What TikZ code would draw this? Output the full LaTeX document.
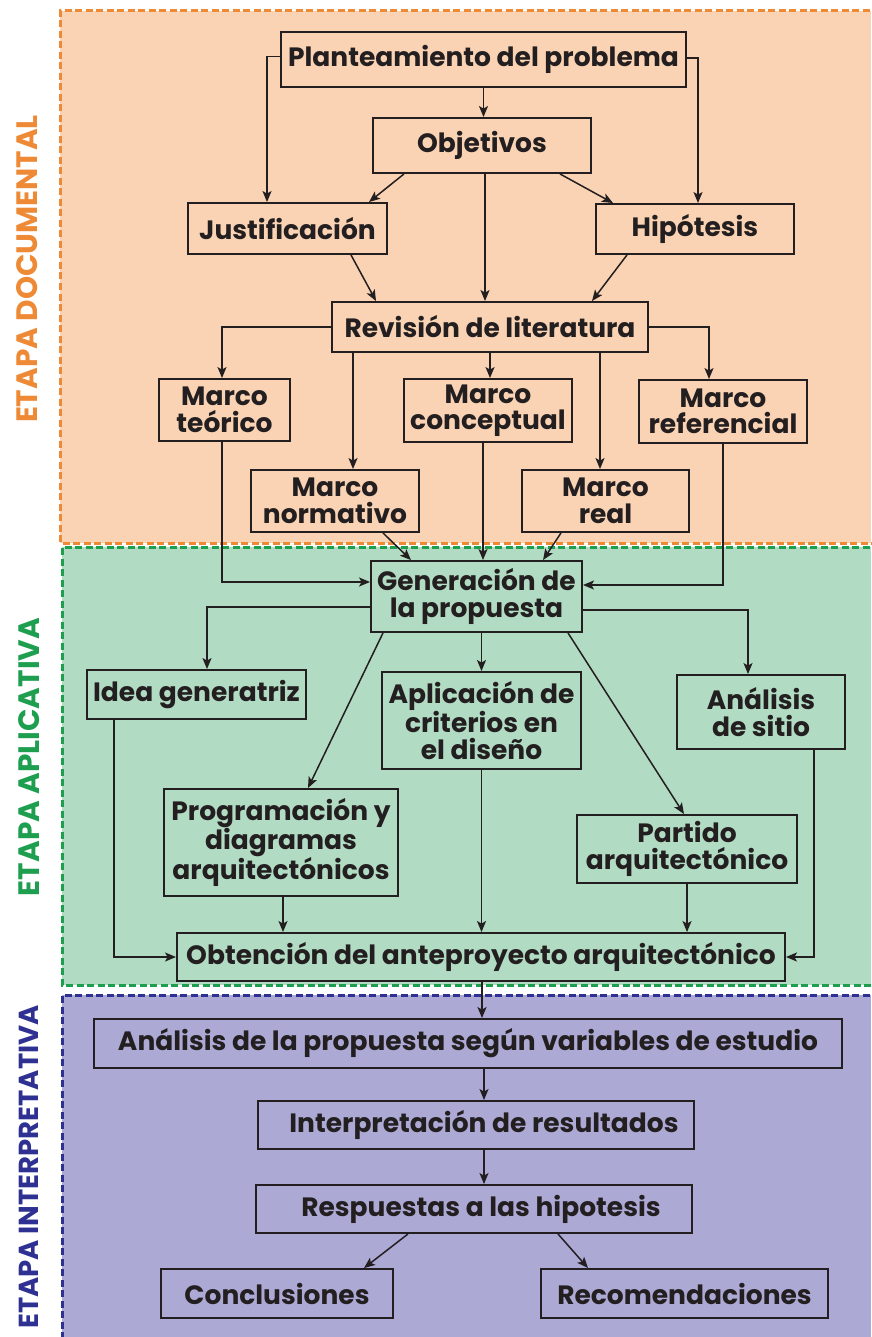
\documentclass[tikz,border=0pt]{standalone}
\usepackage{fontspec}
\setmainfont{Poppins}
\usetikzlibrary{arrows.meta,calc}
\definecolor{orfill}{HTML}{FAD3B4}
\definecolor{orline}{HTML}{EE8A35}
\definecolor{grfill}{HTML}{B2DBC3}
\definecolor{grline}{HTML}{1E9E4F}
\definecolor{blfill}{HTML}{ADA9D5}
\definecolor{blline}{HTML}{2E3192}
\definecolor{ink}{HTML}{231F20}
\begin{document}
\begin{tikzpicture}[x=1pt,y=-1pt,
 box/.style={draw=ink, line width=1.9pt, inner sep=0pt, align=center, text=ink, font=\fontsize{26.5}{26.5}\selectfont\bfseries},
 arr/.style={draw=ink, line width=1.5pt, -{Stealth[length=11pt,width=9pt,inset=2.5pt]}},
 zone/.style={line width=3pt, dash pattern=on 7pt off 3.5pt},
 lab/.style={rotate=90, font=\fontsize{29.5}{29.5}\selectfont\bfseries}]
\useasboundingbox (0,0) rectangle (871,1337);
\fill[white] (0,0) rectangle (871,1337);
% zones
\fill[orfill] (60,11) rectangle (871,543);
\draw[zone, orline] (880,11) -- (60,11) -- (60,543) -- (880,543);
\fill[grfill] (62,547) rectangle (871,985);
\draw[zone, grline] (880,547) -- (62,547) -- (62,985) -- (880,985);
\fill[blfill] (62,995) rectangle (871,1345);
\draw[zone, blline] (880,995) -- (62,995) -- (62,1345);
\node[lab, text=orline] (l1) at (27,269) {ETAPA DOCUMENTAL};
\node[lab, text=grline] (l2) at (29,757) {ETAPA APLICATIVA};
\node[lab, text=blline, font=\fontsize{27.5}{27.5}\selectfont\bfseries] (l3) at (29,1167) {ETAPA INTERPRETATIVA};
% nodes
\node[box, minimum width=405pt, minimum height=55pt] (plan) at (483.5,59.5) {Planteamiento del problema};
\node[box, minimum width=218pt, minimum height=55pt] (obj) at (482,145.5) {Objetivos};
\node[box, minimum width=199pt, minimum height=51pt] (just) at (287.5,228.5) {Justificación};
\node[box, minimum width=198pt, minimum height=50pt] (hip) at (695,229) {Hipótesis};
\node[box, minimum width=316pt, minimum height=50pt] (rev) at (490,327) {Revisión de literatura};
\node[box, minimum width=131pt, minimum height=62pt] (mteo) at (224.5,410) {Marco\\teórico};
\node[box, minimum width=168pt, minimum height=63pt] (mcon) at (488,410.5) {Marco\\conceptual};
\node[box, minimum width=168pt, minimum height=63pt] (mref) at (723,411.5) {Marco\\referencial};
\node[box, minimum width=168pt, minimum height=62pt] (mnor) at (335,501) {Marco\\normativo};
\node[box, minimum width=167pt, minimum height=62pt] (mreal) at (605.5,501) {Marco\\real};
\node[box, minimum width=211pt, minimum height=71pt] (gen) at (476.5,596.5) {Generación de\\la propuesta};
\node[box, minimum width=219pt, minimum height=49pt] (idea) at (196.5,694.5) {Idea generatriz};
\node[box, minimum width=199pt, minimum height=97pt] (apl) at (481.5,720.5) {Aplicación de\\criterios en\\el diseño};
\node[box, minimum width=168pt, minimum height=74pt] (anal) at (761,712) {Análisis\\de sitio};
\node[box, minimum width=234pt, minimum height=107pt] (prog) at (281,842.5) {Programación y\\diagramas\\arquitectónicos};
\node[box, minimum width=220pt, minimum height=68pt] (part) at (687,849) {Partido\\arquitectónico};
\node[box, minimum width=608pt, minimum height=48pt] (obt) at (481,957) {Obtención del anteproyecto arquitectónico};
\node[box, minimum width=748pt, minimum height=49pt] (apro) at (468,1043.5) {Análisis de la propuesta según variables de estudio};
\node[box, minimum width=436pt, minimum height=48pt] (interp) at (476,1125) {\hspace*{16pt}Interpretación de resultados};
\node[box, minimum width=436pt, minimum height=48pt] (resp) at (474,1209) {\hspace*{14pt}Respuestas a las hipotesis};
\node[box, minimum width=232pt, minimum height=49pt] (concl) at (277,1293.5) {Conclusiones};
\node[box, minimum width=287pt, minimum height=49pt] (recom) at (684.5,1293.5) {Recomendaciones};
% connectors: documental
\draw[arr] (plan.south) -- (plan.south |- obj.north);
\draw[arr] ([yshift=3pt]plan.west) -| ([xshift=-20.5pt]just.north);
\draw[arr] ([yshift=1.5pt]plan.east) -| ([xshift=3pt]hip.north);
\draw[arr] ([xshift=-78pt]obj.south) -- ([xshift=81.5pt]just.north);
\draw[arr] ([xshift=78pt]obj.south) -- ([xshift=-82pt]hip.north);
\draw[arr] ([xshift=3pt]obj.south) -- ([xshift=3pt]obj.south |- rev.north);
\draw[arr] ([xshift=63.5pt]just.south) -- ([xshift=-114pt]rev.north);
\draw[arr] ([xshift=-68pt]hip.south) -- ([xshift=102pt]rev.north);
\draw[arr] (rev.west) -| ([xshift=-2.5pt]mteo.north);
\draw[arr] (rev.east) -| ([xshift=-14pt]mref.north);
\draw[arr] (rev.south) -- (rev.south |- mcon.north);
\draw[arr] ([xshift=-137pt]rev.south) -- ([xshift=-137pt]rev.south |- mnor.north);
\draw[arr] ([xshift=110pt]rev.south) -- ([xshift=110pt]rev.south |- mreal.north);
\draw[arr] ([xshift=-2.5pt]mteo.south) |- ([yshift=14.5pt]gen.west);
\draw[arr] (mref.south) |- ([yshift=11.5pt]gen.east);
\draw[arr] ([xshift=48pt]mnor.south) -- ([xshift=-65.5pt]gen.north);
\draw[arr] ([xshift=-5pt]mcon.south) -- ([xshift=-5pt]mcon.south |- gen.north);
\draw[arr] ([xshift=-44.5pt]mreal.south) -- ([xshift=66.5pt]gen.north);
% connectors: aplicativa
\draw[arr] ([yshift=-10.5pt]gen.west) -| ([xshift=10.5pt]idea.north);
\draw[arr] ([yshift=-13.5pt]gen.east) -| ([xshift=-13pt]anal.north);
\draw[arr] (apl.north |- gen.south) -- (apl.north);
\draw[arr] ([xshift=-93.5pt]gen.south) -- ([xshift=27pt]prog.north);
\draw[arr] ([xshift=91.5pt]gen.south) -- ([xshift=-3pt]part.north);
\draw[arr] ([xshift=-82.5pt]idea.south) |- (obt.west);
\draw[arr] ([xshift=53pt]anal.south) |- (obt.east);
\draw[arr] ([xshift=2pt]prog.south) -- ([xshift=2pt]prog.south |- obt.north);
\draw[arr] (apl.south) -- (apl.south |- obt.north);
\draw[arr] (part.south) -- (part.south |- obt.north);
% connectors: interpretativa
\draw[arr] ([xshift=1pt]obt.south) -- ([xshift=1pt]obt.south |- apro.north);
\draw[arr] ([xshift=8pt]interp.north |- apro.south) -- ([xshift=8pt]interp.north);
\draw[arr] ([xshift=8pt]interp.south) -- ([xshift=8pt]interp.south |- resp.north);
\draw[arr] ([xshift=-66pt]resp.south) -- ([xshift=87pt]concl.north);
\draw[arr] ([xshift=84pt]resp.south) -- ([xshift=-96.5pt]recom.north);
\end{tikzpicture}
\end{document}
